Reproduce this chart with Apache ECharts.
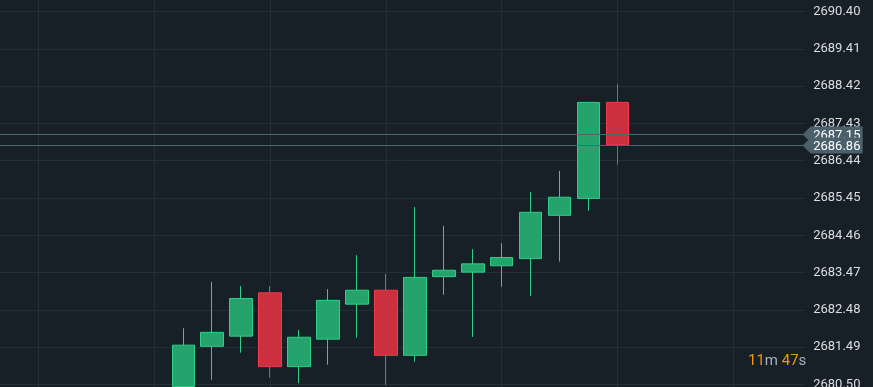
<!DOCTYPE html>
<html>
<head>
<meta charset="utf-8">
<script src="https://cdn.jsdelivr.net/npm/echarts@6/dist/echarts.min.js"></script>
<style>
html,body{margin:0;padding:0;background:#182027;}
#chart{width:873px;height:387px;}
</style>
</head>
<body>
<div id="chart"></div>
<script>
// ---- data ----
const slotCount = 28;            // time slots on the x axis (most are empty)
const firstCandleSlot = 6;
const opens  = [2680.44, 2681.51, 2681.78, 2682.93, 2680.97, 2681.70, 2682.63, 2683.00, 2681.27, 2683.36, 2683.48, 2683.65, 2683.84, 2684.99, 2685.44, 2687.99];
const closes = [2681.54, 2681.88, 2682.78, 2680.97, 2681.75, 2682.73, 2683.00, 2681.27, 2683.34, 2683.53, 2683.70, 2683.87, 2685.07, 2685.47, 2687.99, 2686.86];
const lows   = [2680.30, 2680.62, 2681.34, 2680.68, 2680.53, 2681.02, 2681.74, 2680.48, 2681.10, 2682.88, 2681.76, 2683.09, 2682.85, 2683.76, 2685.11, 2686.33];
const highs  = [2681.99, 2683.22, 2683.11, 2683.11, 2681.94, 2683.03, 2683.93, 2683.43, 2685.21, 2684.71, 2684.09, 2684.25, 2685.61, 2686.17, 2687.99, 2688.48];
const priceLines = [2687.15, 2686.86];
const verticalGridSlots = [1, 5, 9, 13, 17, 21, 25];
const yMin = 2679.51, yMax = 2691.39, yStep = 0.99;
const countdownMin = '11', countdownSec = '47';

// ---- build ----
const slots = [];
for (let i = 0; i < slotCount; i++) slots.push(String(i));
const candleData = slots.map((s, i) => {
  const k = i - firstCandleSlot;
  if (k < 0 || k >= opens.length) return '-';
  return [opens[k], closes[k], lows[k], highs[k]];
});

const chart = echarts.init(document.getElementById('chart'), null, {renderer: 'canvas'});
const option = {
  backgroundColor: '#182027',
  animation: false,
  grid: {left: -4.9, right: 67.3, top: -25.56, bottom: -34.56, containLabel: false, outerBoundsMode: 'none'},
  xAxis: {
    type: 'category',
    data: slots,
    boundaryGap: true,
    axisLine: {show: false},
    axisTick: {show: false},
    axisLabel: {show: false},
    splitLine: {show: false}
  },
  yAxis: {
    type: 'value',
    position: 'right',
    min: yMin,
    max: yMax,
    interval: yStep,
    scale: true,
    axisLine: {show: false},
    axisTick: {show: false},
    axisLabel: {
      margin: 7.5,
      color: '#dadee2',
      fontSize: 13,
      fontFamily: 'Roboto',
      formatter: v => v.toFixed(2)
    },
    splitLine: {show: true, lineStyle: {color: '#242e36', width: 1}}
  },
  series: [
    {
      type: 'line',
      data: [],
      z: 1,
      silent: true,
      markLine: {
        z: 1,
        silent: true,
        symbol: ['none', 'none'],
        label: {show: false},
        lineStyle: {color: '#242e36', width: 1, type: 'solid'},
        data: verticalGridSlots.map(s => ({xAxis: String(s)}))
      }
    },
    {
      type: 'candlestick',
      z: 3,
      data: candleData,
      barWidth: 23,
      itemStyle: {
        color: '#24a36d',
        color0: '#cc2f3e',
        borderColor: '#2fcf86',
        borderColor0: '#f23b4c',
        borderWidth: 1
      }
    },
    {
      type: 'custom',
      z: 5,
      clip: false,
      silent: true,
      data: priceLines.map(p => [0, p]),
      encode: {x: 0, y: 1},
      renderItem: function (params, api) {
        const cs = params.coordSys;
        const y = Math.round(api.coord([api.value(0), api.value(1)])[1]) + 0.5;
        const x0 = 0;
        const xr = cs.x + cs.width;
        const h = 8;
        return {
          type: 'group',
          children: [
            {type: 'line', shape: {x1: x0, y1: y, x2: xr - 2, y2: y}, style: {stroke: '#4e6470', lineWidth: 1}},
            {type: 'polygon', shape: {points: [[xr - 3, y], [xr + 5, y - h], [xr + 57, y - h], [xr + 57, y + h], [xr + 5, y + h]]}, style: {fill: '#4c606b'}},
            {type: 'text', style: {text: api.value(1).toFixed(2), x: xr + 7.5, y: y + 1, fill: '#ffffff', font: '13px Roboto', align: 'left', verticalAlign: 'middle'}}
          ]
        };
      }
    }
  ],
  graphic: [
    {
      type: 'text',
      left: 748,
      top: 354,
      style: {
        text: '{n|' + countdownMin + '}{u|m} {n|' + countdownSec + '}{u|s}',
        font: '15px Roboto',
        rich: {
          n: {fill: '#f0960f', font: '15px Roboto'},
          u: {fill: '#a9b1b8', font: '15px Roboto'}
        }
      }
    }
  ]
};
chart.setOption(option);
</script>
</body>
</html>
